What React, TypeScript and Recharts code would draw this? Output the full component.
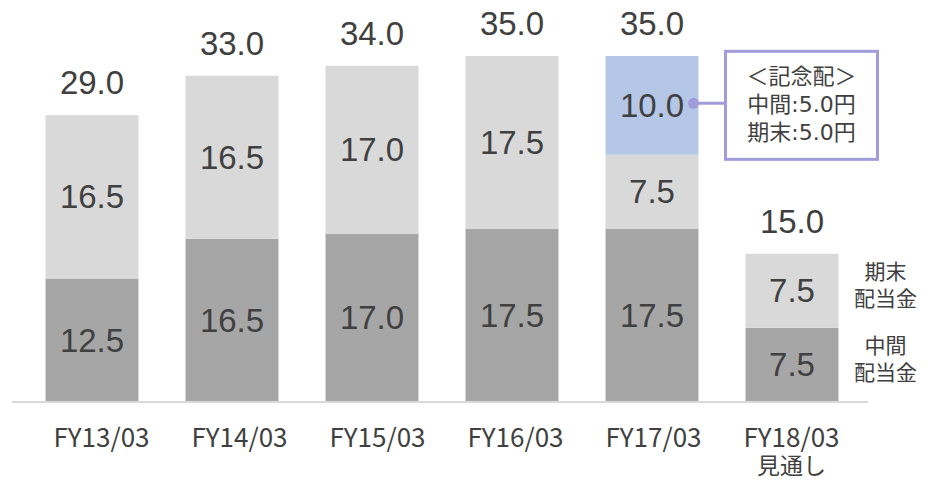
import React from "react";
import { BarChart, Bar, XAxis, YAxis, LabelList } from "recharts";

const categories = ["FY13/03", "FY14/03", "FY15/03", "FY16/03", "FY17/03", "FY18/03"];
const subLabels = ["", "", "", "", "", "見通し"];
const interim = [12.5, 16.5, 17.0, 17.5, 17.5, 7.5];
const yearEnd = [16.5, 16.5, 17.0, 17.5, 7.5, 7.5];
const commemorative = [0, 0, 0, 0, 10.0, 0];
const totals = [29.0, 33.0, 34.0, 35.0, 35.0, 15.0];
const commemorativeNote = ["＜記念配＞", "中間:5.0円", "期末:5.0円"];
const yearEndLegend = ["期末", "配当金"];
const interimLegend = ["中間", "配当金"];

const data = categories.map((name, i) => ({
  name,
  interim: interim[i],
  yearEnd: yearEnd[i],
  commemorative: commemorative[i],
}));

const TEXT = "#404040";
const NUM_FONT = "'Liberation Sans', Arial, sans-serif";
const JP_FONT = "'Noto Sans CJK JP', sans-serif";
const MIX_FONT = "'DejaVu Sans', 'Noto Sans CJK JP', sans-serif";
const CALLOUT = "#a09cdc";
const lastIndex = categories.length - 1;

// labels get the category name as value, zero-height bars are skipped by recharts
const idx = (p: any) => categories.indexOf(p.value);

function SegmentValue(p: any) {
  const { x, y, width, height, values } = p;
  const v = values[idx(p)];
  if (!v) return null;
  return (
    <text
      x={x + width / 2}
      y={y + height / 2}
      textAnchor="middle"
      dominantBaseline="central"
      fontSize={33}
      fontFamily={NUM_FONT}
      fill={TEXT}
    >
      {v.toFixed(1)}
    </text>
  );
}

// two-line series name to the right of the last bar
function SideLegend(p: any) {
  const { x, y, width, height, lines } = p;
  if (idx(p) !== lastIndex) return null;
  const cx = x + width + 47;
  const cy = y + height / 2 - 7;
  return (
    <g>
      {lines.map((t: string, i: number) => (
        <text
          key={t + i}
          x={cx}
          y={cy + (i - 0.5) * 27}
          textAnchor="middle"
          dominantBaseline="central"
          fontSize={21}
          fontFamily={JP_FONT}
          fill={TEXT}
        >
          {t}
        </text>
      ))}
    </g>
  );
}

// total above the stack; `top` says whether this series is the top one for that bar
function TotalLabel(p: any) {
  const { x, y, width, top } = p;
  const i = idx(p);
  if (i < 0 || top(i) === false) return null;
  return (
    <text
      x={x + width / 2}
      y={y - 21}
      textAnchor="middle"
      fontSize={33}
      fontFamily={NUM_FONT}
      fill={TEXT}
    >
      {totals[i].toFixed(1)}
    </text>
  );
}

function Callout(p: any) {
  const { x, y, width, height } = p;
  if (!commemorative[idx(p)]) return null;
  const dotX = x + width - 5;
  const dotY = y + height / 2 - 2;
  const boxX = x + width + 27;
  const boxW = 152;
  const boxH = 108;
  const boxY = dotY - boxH / 2 + 2;
  return (
    <g>
      <line x1={dotX} y1={dotY} x2={boxX} y2={dotY} stroke={CALLOUT} strokeWidth={3} />
      <circle cx={dotX} cy={dotY} r={5.5} fill={CALLOUT} />
      <rect x={boxX} y={boxY} width={boxW} height={boxH} fill="#ffffff" stroke={CALLOUT} strokeWidth={3} />
      {commemorativeNote.map((t, i) => (
        <text
          key={t}
          x={boxX + boxW / 2}
          y={boxY + 25 + i * 28}
          textAnchor="middle"
          dominantBaseline="central"
          fontSize={22}
          fontFamily={MIX_FONT}
          fill={TEXT}
        >
          {t}
        </text>
      ))}
    </g>
  );
}

function CategoryTick({ x, y, payload }: any) {
  const i = payload.index;
  return (
    <g>
      <text
        x={x + (lastIndex - i) * 2}
        y={y + 25}
        textAnchor="middle"
        dominantBaseline="central"
        fontSize={26}
        fontFamily={JP_FONT}
        fill={TEXT}
      >
        {categories[i]}
      </text>
      {subLabels[i] && (
        <text
          x={x}
          y={y + 54}
          textAnchor="middle"
          dominantBaseline="central"
          fontSize={23}
          fontFamily={JP_FONT}
          fill={TEXT}
        >
          {subLabels[i]}
        </text>
      )}
    </g>
  );
}

export default function App() {
  return (
    <BarChart
      width={920}
      height={472}
      data={data}
      margin={{ top: 38, right: 60, left: 4, bottom: 18 }}
      barSize={93}
    >
      <XAxis
        dataKey="name"
        height={60}
        interval={0}
        padding={{ left: 9.5, right: 6.5 }}
        axisLine={{ stroke: "#d9d9d9", strokeWidth: 2 }}
        tickLine={false}
        tick={<CategoryTick />}
      />
      <YAxis hide domain={[0, 36]} />
      <Bar dataKey="interim" stackId="a" fill="#a6a6a6" isAnimationActive={false}>
        <LabelList dataKey="name" content={(p: any) => <SegmentValue {...p} values={interim} />} />
        <LabelList dataKey="name" content={(p: any) => <SideLegend {...p} lines={interimLegend} />} />
      </Bar>
      <Bar dataKey="yearEnd" stackId="a" fill="#d9d9d9" isAnimationActive={false}>
        <LabelList dataKey="name" content={(p: any) => <SegmentValue {...p} values={yearEnd} />} />
        <LabelList dataKey="name" content={(p: any) => <SideLegend {...p} lines={yearEndLegend} />} />
        <LabelList dataKey="name" content={(p: any) => <TotalLabel {...p} top={(i: number) => !commemorative[i]} />} />
      </Bar>
      <Bar dataKey="commemorative" stackId="a" fill="#b4c7e7" isAnimationActive={false}>
        <LabelList dataKey="name" content={(p: any) => <SegmentValue {...p} values={commemorative} />} />
        <LabelList dataKey="name" content={(p: any) => <TotalLabel {...p} top={(i: number) => commemorative[i] > 0} />} />
        <LabelList dataKey="name" content={(p: any) => <Callout {...p} />} />
      </Bar>
    </BarChart>
  );
}
